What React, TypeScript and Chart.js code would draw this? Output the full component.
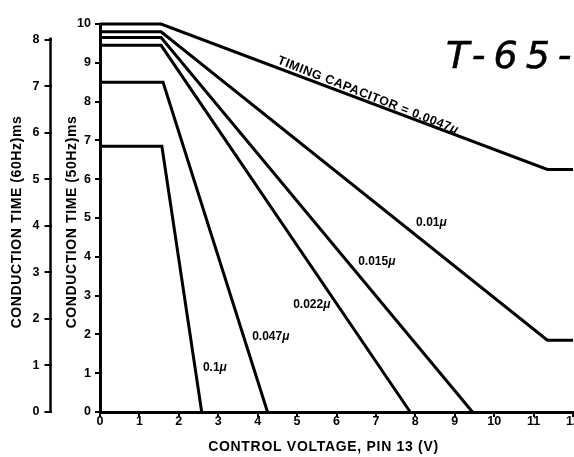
import { useEffect, useRef } from 'react';
import { Chart, registerables } from 'chart.js';

Chart.register(...registerables);

// Control voltage (V) break points and 50 Hz conduction time (ms) for each timing capacitor
const cap0047Volts = [0, 1.55, 11.35, 12];
const cap0047Times = [10, 10, 6.25, 6.25];
const cap01Volts = [0, 1.55, 11.35, 12];
const cap01Times = [9.8, 9.8, 1.85, 1.85];
const cap015Volts = [0, 1.55, 9.45];
const cap015Times = [9.65, 9.65, 0];
const cap022Volts = [0, 1.55, 7.87];
const cap022Times = [9.45, 9.45, 0];
const cap047Volts = [0, 1.6, 4.25];
const cap047Times = [8.5, 8.5, 0];
const cap1Volts = [0, 1.57, 2.58];
const cap1Times = [6.85, 6.85, 0];

const capacitorNames = ['0.0047μ', '0.01μ', '0.015μ', '0.022μ', '0.047μ', '0.1μ'];

// Tick labels
const voltageTicks = [0, 1, 2, 3, 4, 5, 6, 7, 8, 9, 10, 11, 12];
const time50Ticks = [0, 1, 2, 3, 4, 5, 6, 7, 8, 9, 10];
const time60Ticks = [0, 1, 2, 3, 4, 5, 6, 7, 8];
const time60Max = 10 * 50 / 60;

const xTitle = 'CONTROL VOLTAGE, PIN 13 (V)';
const y50Title = 'CONDUCTION TIME (50Hz)ms';
const y60Title = 'CONDUCTION TIME (60Hz)ms';
const curveTitle = 'TIMING CAPACITOR = ';
const handNote = 'T-65-';

// Where the capacitor value labels sit (in data units: volts, ms)
const labelAnchors = [
  { x: 8.02, y: 4.88 },
  { x: 6.55, y: 3.87 },
  { x: 4.9, y: 2.76 },
  { x: 3.86, y: 1.93 },
  { x: 2.61, y: 1.13 },
];

const seriesVolts = [cap0047Volts, cap01Volts, cap015Volts, cap022Volts, cap047Volts, cap1Volts];
const seriesTimes = [cap0047Times, cap01Times, cap015Times, cap022Times, cap047Times, cap1Times];

const FONT = '"Liberation Sans", Arial, Helvetica, sans-serif';

function drawCapText(ctx: CanvasRenderingContext2D, text: string, px: number, py: number, size: number) {
  const num = text.replace('μ', '');
  ctx.font = `bold ${size}px ${FONT}`;
  ctx.fillText(num, px, py);
  const w = ctx.measureText(num).width;
  ctx.font = `italic bold ${size}px ${FONT}`;
  ctx.fillText('μ', px + w, py);
}

const overlayPlugin = {
  id: 'overlay',
  afterDatasetsDraw(chart: any) {
    const { ctx, scales } = chart;
    const xs = scales.x;
    const ys = scales.y;
    const y2 = scales.y2;
    ctx.save();
    ctx.fillStyle = '#000';
    ctx.strokeStyle = '#000';

    // 60 Hz axis spine (only as far as its last tick)
    const spineX = y2.right - 1;
    ctx.lineWidth = 2.5;
    ctx.beginPath();
    ctx.moveTo(spineX, y2.getPixelForValue(time60Ticks[0]) + 1);
    ctx.lineTo(spineX, y2.getPixelForValue(time60Ticks[time60Ticks.length - 1]) - 2);
    ctx.stroke();

    // Axis titles
    ctx.font = `bold 14px ${FONT}`;
    (ctx as any).letterSpacing = '0.7px';
    ctx.textAlign = 'center';
    ctx.textBaseline = 'middle';
    ctx.fillText(xTitle, (xs.left + xs.right) / 2 - 13, 447.5);
    (ctx as any).letterSpacing = '0.6px';
    const midY = (ys.top + ys.bottom) / 2 + 4;
    ctx.save();
    ctx.translate(ys.left + 20.5, midY);
    ctx.rotate(-Math.PI / 2);
    ctx.fillText(y50Title, 0, 0);
    ctx.restore();
    ctx.save();
    ctx.translate(y2.left + 17.5, midY);
    ctx.rotate(-Math.PI / 2);
    ctx.fillText(y60Title, 0, 0);
    ctx.restore();

    // Rotated label along the 0.0047 curve
    const vx = seriesVolts[0];
    const ty = seriesTimes[0];
    const ax = xs.getPixelForValue(vx[1]);
    const ay = ys.getPixelForValue(ty[1]);
    const bx = xs.getPixelForValue(vx[2]);
    const by = ys.getPixelForValue(ty[2]);
    const ang = Math.atan2(by - ay, bx - ax);
    const startV = 4.45;
    const startT = ty[1] + (ty[2] - ty[1]) * (startV - vx[1]) / (vx[2] - vx[1]);
    const sx = xs.getPixelForValue(startV);
    const sy = ys.getPixelForValue(startT);
    ctx.save();
    ctx.translate(sx + Math.sin(ang) * 4, sy - Math.cos(ang) * 4);
    ctx.rotate(ang + 0.014);
    ctx.textAlign = 'left';
    ctx.textBaseline = 'alphabetic';
    (ctx as any).letterSpacing = '0.5px';
    ctx.font = `bold 12.5px ${FONT}`;
    ctx.fillText(curveTitle, 0, 0);
    const tw = ctx.measureText(curveTitle).width;
    drawCapText(ctx, capacitorNames[0], tw, 0, 12.5);
    ctx.restore();

    // Other capacitor labels
    (ctx as any).letterSpacing = '0px';
    ctx.textAlign = 'left';
    ctx.textBaseline = 'middle';
    labelAnchors.forEach((a, i) => {
      drawCapText(ctx, capacitorNames[i + 1], xs.getPixelForValue(a.x), ys.getPixelForValue(a.y), 12);
    });

    // Handwritten note in the corner
    ctx.font = `italic 38px "DejaVu Sans", sans-serif`;
    (ctx as any).letterSpacing = '8px';
    ctx.textBaseline = 'alphabetic';
    ctx.lineWidth = 0.6;
    ctx.lineJoin = 'round';
    const hx = xs.right - 127;
    ctx.fillText(handNote, hx, 68);
    ctx.strokeText(handNote, hx, 68);

    ctx.restore();
  },
};

const tickFont = { family: FONT, size: 12.5, weight: 'bold' as const };

export default function App() {
  const ref = useRef<HTMLCanvasElement>(null);

  useEffect(() => {
    const datasets = seriesVolts.map((vs, i) => ({
      label: capacitorNames[i],
      data: vs.map((v, j) => ({ x: v, y: seriesTimes[i][j] })),
      borderColor: '#000',
      borderWidth: 3,
      pointRadius: 0,
      tension: 0,
      fill: false,
      clip: false as any,
      yAxisID: 'y',
    }));

    const chart = new Chart(ref.current as HTMLCanvasElement, {
      type: 'line',
      data: { datasets },
      options: {
        animation: false,
        responsive: false,
        layout: { padding: { left: 0, top: 24, right: 27, bottom: 0 } },
        plugins: { legend: { display: false }, tooltip: { enabled: false } },
        scales: {
          x: {
            type: 'linear',
            position: 'bottom',
            min: 0,
            max: 12,
            afterBuildTicks: (s: any) => {
              s.ticks = voltageTicks.map((v) => ({ value: v }));
            },
            afterFit: (s: any) => {
              s.height = 45;
            },
            grid: { drawOnChartArea: false, drawTicks: true, tickLength: 5, color: '#000', lineWidth: 2 },
            border: { display: true, color: '#000', width: 3 },
            ticks: { color: '#000', font: tickFont, padding: -3, maxRotation: 0, autoSkip: false },
          },
          y: {
            type: 'linear',
            position: 'left',
            weight: 0,
            min: 0,
            max: 10,
            afterBuildTicks: (s: any) => {
              s.ticks = time50Ticks.map((v) => ({ value: v }));
            },
            afterFit: (s: any) => {
              s.width = 48.5;
            },
            grid: { drawOnChartArea: false, drawTicks: true, tickLength: 5, color: '#000', lineWidth: 2 },
            border: { display: true, color: '#000', width: 3 },
            ticks: { color: '#000', font: tickFont, padding: 4, autoSkip: false },
          },
          y2: {
            type: 'linear',
            position: 'left',
            weight: 1,
            min: 0,
            max: time60Max,
            afterBuildTicks: (s: any) => {
              s.ticks = time60Ticks.map((v) => ({ value: v }));
            },
            afterFit: (s: any) => {
              s.width = 51.5;
            },
            grid: { drawOnChartArea: false, drawTicks: true, tickLength: 7, color: '#000', lineWidth: 2 },
            border: { display: false },
            ticks: { color: '#000', font: tickFont, padding: 5, autoSkip: false },
          },
        },
      },
      plugins: [overlayPlugin],
    } as any);

    return () => chart.destroy();
  }, []);

  return (
    <div
      style={{
        position: 'fixed',
        left: 0,
        top: 0,
        width: 574,
        height: 457,
        overflow: 'hidden',
        background: '#fff',
      }}
    >
      <canvas ref={ref} width={600} height={457} style={{ display: 'block', width: 600, height: 457 }} />
    </div>
  );
}
